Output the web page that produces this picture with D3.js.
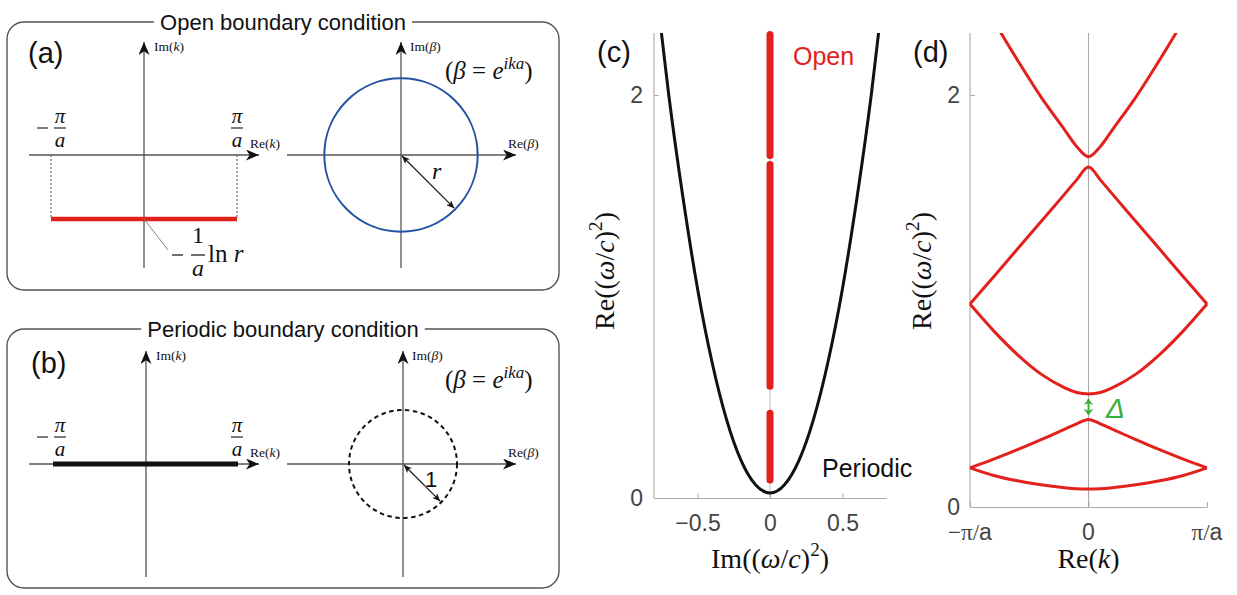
<!DOCTYPE html>
<html>
<head>
<meta charset="utf-8">
<script src="https://cdn.jsdelivr.net/npm/d3@7"></script>
<style>
  body { margin: 0; background: #fff; }
  svg { display: block; }
</style>
</head>
<body>
<svg id="viz" width="1237" height="595"></svg>
<script>
// ---- data ----
// (a)/(b): complex k plane and beta plane
const kRange = [-1, 1];            // Re(k) in units of pi/a
const openImK = -1;                // Im(k) = -(1/a) ln r  (schematic unit)
const openRadius = 1.42;           // |beta| = r for the open chain
const periodicRadius = 1;          // |beta| = 1 for the periodic chain

// (c): spectrum in the complex (omega/c)^2 plane
const periodicIm = [-0.8, -0.7, -0.6, -0.5, -0.4, -0.3, -0.2, -0.1, 0, 0.1, 0.2, 0.3, 0.4, 0.5, 0.6, 0.7, 0.8];
const periodicRe = [2.62, 2.01, 1.49, 1.04, 0.675, 0.39, 0.187, 0.066, 0.025, 0.066, 0.187, 0.39, 0.675, 1.04, 1.49, 2.01, 2.62];
const openSegments = [[0.08, 0.43], [0.545, 1.665], [1.69, 2.31]]; // Re ranges on Im = 0
const cTicksX = [-0.5, 0, 0.5];
const cTicksY = [0, 2];

// (d): bands vs Re(k) (k in units of pi/a)
const bandK = [-1, -0.8, -0.6, -0.4, -0.2, -0.1, 0, 0.1, 0.2, 0.4, 0.6, 0.8, 1];
const band1 = [0.19, 0.153, 0.127, 0.108, 0.094, 0.089, 0.087, 0.089, 0.094, 0.108, 0.127, 0.153, 0.19];
const band2 = [0.19, 0.232, 0.278, 0.327, 0.378, 0.404, 0.425, 0.404, 0.378, 0.327, 0.278, 0.232, 0.19];
const band3 = [0.985, 0.855, 0.74, 0.645, 0.578, 0.556, 0.549, 0.556, 0.578, 0.645, 0.74, 0.855, 0.985];
const band4 = [0.985, 1.118, 1.252, 1.386, 1.52, 1.588, 1.65, 1.588, 1.52, 1.386, 1.252, 1.118, 0.985];
const band5K = [-0.8, -0.6, -0.4, -0.2, -0.1, 0, 0.1, 0.2, 0.4, 0.6, 0.8];
const band5 = [2.36, 2.17, 1.99, 1.83, 1.75, 1.70, 1.75, 1.83, 1.99, 2.17, 2.36];
const gapEdges = [0.442, 0.529];
const dTicksX = [-1, 0, 1];
const dTickLabels = ["−π/a", "0", "π/a"];
const dTicksY = [0, 2];

const SANS = "'Liberation Sans', Arial, sans-serif";
const SERIF = "'Liberation Serif', 'Times New Roman', serif";
const RED = "#e3211c";
const GREEN = "#3cae3a";

const svg = d3.select("#viz");
const defs = svg.append("defs");

function marker(id, color, len, half) {
  defs.append("marker").attr("id", id)
    .attr("viewBox", `${-len} ${-half} ${len + 1} ${half * 2}`)
    .attr("refX", 0).attr("refY", 0)
    .attr("markerWidth", len + 1).attr("markerHeight", half * 2)
    .attr("markerUnits", "userSpaceOnUse")
    .attr("orient", "auto-start-reverse")
    .append("path")
    .attr("d", `M0,0 L${-len},${-half} L${-len * 0.72},0 L${-len},${half} Z`)
    .attr("fill", color);
}
marker("axisArrow", "#111", 13, 5.5);
marker("radArrow", "#111", 8, 3.5);
marker("gapArrow", GREEN, 6, 5);

// math text with italic / superscript parts
function mtext(sel, x, y, parts, size, opt = {}) {
  const t = sel.append("text").attr("x", x).attr("y", y)
    .attr("font-family", SERIF).attr("font-size", size)
    .attr("text-anchor", opt.anchor || "start")
    .attr("fill", opt.fill || "#111");
  if (opt.rotate) t.attr("transform", `rotate(-90,${x},${y})`);
  let shift = 0;
  parts.forEach(p => {
    const s = p.sup ? -0.42 * size : 0;
    const ts = t.append("tspan").text(p.t).attr("dy", s - shift);
    shift = s;
    if (p.i) ts.attr("font-style", "italic");
    if (p.sup) ts.attr("font-size", size * 0.68);
  });
  return t;
}

function fraction(sel, cx, barY, num, den, size, numItalic) {
  sel.append("line").attr("x1", cx - 6).attr("x2", cx + 6)
    .attr("y1", barY).attr("y2", barY).attr("stroke", "#111").attr("stroke-width", 1.1);
  mtext(sel, cx, barY - 5, [{ t: num, i: numItalic }], size, { anchor: "middle" });
  mtext(sel, cx, barY + 19, [{ t: den, i: true }], size, { anchor: "middle" });
}

// rounded frame with a gap for the title
function frame(x0, y0, x1, y1, title) {
  const g = svg.append("g");
  const cx = (x0 + x1) / 2;
  const t = g.append("text").attr("x", cx).attr("y", y0 + 7.5)
    .attr("text-anchor", "middle").attr("font-family", SANS)
    .attr("font-size", 22).attr("fill", "#111").text(title);
  const w = t.node().getComputedTextLength();
  const gl = cx - w / 2 - 6, gr = cx + w / 2 + 6, r = 17;
  const p = d3.path();
  p.moveTo(gr, y0);
  p.arcTo(x1, y0, x1, y0 + r, r);
  p.arcTo(x1, y1, x1 - r, y1, r);
  p.arcTo(x0, y1, x0, y1 - r, r);
  p.arcTo(x0, y0, x0 + r, y0, r);
  p.lineTo(gl, y0);
  g.append("path").attr("d", p.toString()).attr("fill", "none")
    .attr("stroke", "#555").attr("stroke-width", 1.4);
  return g;
}

function panelLabel(x, y, s) {
  svg.append("text").attr("x", x).attr("y", y).attr("font-family", SANS)
    .attr("font-size", 29).attr("fill", "#111").text(s);
}

function axisArrow(g, x1, y1, x2, y2) {
  g.append("line").attr("x1", x1).attr("y1", y1).attr("x2", x2).attr("y2", y2)
    .attr("stroke", "#555").attr("stroke-width", 1.3)
    .attr("marker-end", "url(#axisArrow)");
}

// k-plane and beta-plane sketch
function planes(g, oy, open) {
  const kx = d3.scaleLinear().domain(kRange).range([51, 237]);
  const ky = d3.scaleLinear().domain([0, -1]).range([oy, oy + 64]);
  const axX = kx(0) + (open ? 0 : 2);
  // k plane axes
  axisArrow(g, axX, oy + 113, axX, oy - 113);
  axisArrow(g, 29, oy, 259, oy);
  mtext(g, axX + 10, oy - 104, [{ t: "Im(" }, { t: "k", i: true }, { t: ")" }], 13.5);
  mtext(g, 250, oy - 7, [{ t: "Re(" }, { t: "k", i: true }, { t: ")" }], 13.5);
  // -pi/a, pi/a
  g.append("line").attr("x1", 37).attr("x2", 48).attr("y1", oy - 27).attr("y2", oy - 27)
    .attr("stroke", "#111").attr("stroke-width", 1.1);
  fraction(g, kx(-1) + 9, oy - 27, "π", "a", 21, true);
  fraction(g, kx(1), oy - 27, "π", "a", 21, true);

  if (open) {
    [kx(-1), kx(1)].forEach(x => g.append("line").attr("x1", x).attr("x2", x)
      .attr("y1", oy).attr("y2", ky(openImK))
      .attr("stroke", "#444").attr("stroke-width", 1).attr("stroke-dasharray", "2,2"));
    g.append("line").attr("x1", kx(-1)).attr("x2", kx(1))
      .attr("y1", ky(openImK)).attr("y2", ky(openImK))
      .attr("stroke", RED).attr("stroke-width", 4.5);
    g.append("line").attr("x1", axX).attr("y1", ky(openImK))
      .attr("x2", 168).attr("y2", ky(openImK) + 31)
      .attr("stroke", "#777").attr("stroke-width", 0.9);
    // -(1/a) ln r
    g.append("line").attr("x1", 172).attr("x2", 183).attr("y1", oy + 100).attr("y2", oy + 100)
      .attr("stroke", "#111").attr("stroke-width", 1.2);
    g.append("line").attr("x1", 191).attr("x2", 205).attr("y1", oy + 100).attr("y2", oy + 100)
      .attr("stroke", "#111").attr("stroke-width", 1.2);
    mtext(g, 198, oy + 88, [{ t: "1" }], 24, { anchor: "middle" });
    mtext(g, 198, oy + 121, [{ t: "a", i: true }], 24, { anchor: "middle" });
    mtext(g, 208, oy + 107, [{ t: "ln " }, { t: "r", i: true }], 25);
  } else {
    g.append("line").attr("x1", kx(-1) + 2).attr("x2", kx(1) + 1)
      .attr("y1", oy).attr("y2", oy)
      .attr("stroke", "#111").attr("stroke-width", 5);
  }

  // beta plane
  const bx = open ? 401 : 403;
  const br = d3.scaleLinear().domain([0, 1]).range([0, 54]);
  const R = open ? openRadius : periodicRadius;
  axisArrow(g, bx, oy + 113, bx, oy - 113);
  axisArrow(g, 287, oy, 516, oy);
  mtext(g, bx + 9, oy - 104, [{ t: "Im(" }, { t: "β", i: true }, { t: ")" }], 13.5);
  mtext(g, 508, oy - 7, [{ t: "Re(" }, { t: "β", i: true }, { t: ")" }], 13.5);
  g.append("circle").attr("cx", bx).attr("cy", oy).attr("r", br(R))
    .attr("fill", "none")
    .attr("stroke", open ? "#2452a3" : "#111").attr("stroke-width", 2)
    .attr("stroke-dasharray", open ? null : "4.5,3.5");
  const ex = bx + br(R) * Math.cos(Math.PI / 4) - 1, ey = oy + br(R) * Math.sin(Math.PI / 4) - 1;
  g.append("line").attr("x1", bx + 1).attr("y1", oy + 1).attr("x2", ex).attr("y2", ey)
    .attr("stroke", "#111").attr("stroke-width", 1.1)
    .attr("marker-start", "url(#radArrow)").attr("marker-end", "url(#radArrow)");
  if (open) mtext(g, 432, oy + 24, [{ t: "r", i: true }], 24);
  else g.append("text").attr("x", 425).attr("y", oy + 23).attr("font-family", SANS)
    .attr("font-size", 22).attr("fill", "#111").text("1");
  mtext(g, 445, oy - 76, [{ t: "(" }, { t: "β", i: true }, { t: " = " }, { t: "e", i: true },
    { t: "ika", i: true, sup: true }, { t: ")" }], 25);
}

// ---- (a) and (b) ----
const ga = frame(7, 22, 559, 290, "Open boundary condition");
panelLabel(28, 63, "(a)");
planes(ga, 155, true);

const gb = frame(7, 329, 559, 588, "Periodic boundary condition");
panelLabel(31, 373, "(b)");
planes(gb, 464, false);

function styleAxis(g) {
  g.select(".domain").attr("stroke", "#aaa").attr("stroke-width", 1.1);
  g.selectAll(".tick line").attr("stroke", "#aaa");
  g.selectAll(".tick text").attr("font-family", SANS).attr("font-size", 23).attr("fill", "#444");
}

// ---- (c) ----
const xc = d3.scaleLinear().domain([-0.8, 0.8]).range([654, 886]);
const yc = d3.scaleLinear().domain([0, 2]).range([498, 95]);
const gc = svg.append("g");
defs.append("clipPath").attr("id", "clipC").append("rect")
  .attr("x", 640).attr("y", 33).attr("width", 260).attr("height", 470);

gc.append("line").attr("x1", xc(0)).attr("x2", xc(0)).attr("y1", yc(0)).attr("y2", 33)
  .attr("stroke", "#bbb").attr("stroke-width", 1);

gc.append("g").attr("transform", `translate(0,${yc(0)})`)
  .call(d3.axisBottom(xc).tickValues(cTicksX).tickSizeInner(-5).tickSizeOuter(0).tickPadding(17)
    .tickFormat(d => d === 0 ? "0" : d3.format(".1f")(d).replace("-", "−")))
  .call(styleAxis);
gc.append("g").attr("transform", `translate(${xc.range()[0]},0)`)
  .call(d3.axisLeft(yc).tickValues(cTicksY).tickSizeInner(-5).tickSizeOuter(0).tickPadding(11)
    .tickFormat(d3.format("d")))
  .call(styleAxis)
  .call(g => g.select(".domain").attr("d", `M0,${yc(0)}V33`));

const parab = periodicIm.map((v, i) => [v, periodicRe[i]]);
gc.append("path").datum(parab).attr("clip-path", "url(#clipC)")
  .attr("d", d3.line().x(d => xc(d[0])).y(d => yc(d[1])).curve(d3.curveNatural))
  .attr("fill", "none").attr("stroke", "#111").attr("stroke-width", 3);

gc.selectAll(".seg").data(openSegments).join("line")
  .attr("x1", xc(0)).attr("x2", xc(0))
  .attr("y1", d => yc(d[0]) - 2).attr("y2", d => yc(d[1]) + 2)
  .attr("stroke", RED).attr("stroke-width", 7).attr("stroke-linecap", "round");

gc.append("text").attr("x", 793).attr("y", 65).attr("font-family", SANS)
  .attr("font-size", 25).attr("fill", RED).text("Open");
gc.append("text").attr("x", 822).attr("y", 477).attr("font-family", SANS)
  .attr("font-size", 25).attr("fill", "#111").text("Periodic");
panelLabel(597, 62, "(c)");

const reLabel = [{ t: "Re((" }, { t: "ω", i: true }, { t: "/" }, { t: "c", i: true }, { t: ")" },
  { t: "2", sup: true }, { t: ")" }];
mtext(svg, 614, 271, reLabel, 28, { anchor: "middle", rotate: true });
mtext(svg, xc(0), 568, [{ t: "Im((" }, { t: "ω", i: true }, { t: "/" }, { t: "c", i: true }, { t: ")" },
  { t: "2", sup: true }, { t: ")" }], 28, { anchor: "middle" });

// ---- (d) ----
const xd = d3.scaleLinear().domain([-1, 1]).range([970, 1207]);
const yd = d3.scaleLinear().domain([0, 2]).range([507, 95]);
const gd = svg.append("g");
defs.append("clipPath").attr("id", "clipD").append("rect")
  .attr("x", 955).attr("y", 33).attr("width", 270).attr("height", 480);

gd.append("line").attr("x1", xd(0)).attr("x2", xd(0)).attr("y1", yd(0)).attr("y2", 33)
  .attr("stroke", "#aaa").attr("stroke-width", 1.1);
gd.append("g").attr("transform", `translate(0,${yd(0)})`)
  .call(d3.axisBottom(xd).tickValues(dTicksX).tickSizeInner(-5).tickSizeOuter(0).tickFormat(() => ""))
  .call(styleAxis);
gd.append("g").attr("transform", `translate(${xd.range()[0]},0)`)
  .call(d3.axisLeft(yd).tickValues(dTicksY).tickSizeInner(-5).tickSizeOuter(0).tickPadding(10)
    .tickFormat(d3.format("d")))
  .call(styleAxis)
  .call(g => g.select(".domain").attr("d", `M0,${yd(0)}V33`));

dTicksX.forEach((v, i) => {
  const lab = dTickLabels[i];
  const t = gd.append("text").attr("x", xd(v)).attr("y", 540).attr("text-anchor", "middle")
    .attr("font-size", 23).attr("fill", "#444").attr("font-family", SANS);
  if (lab === "0") { t.text("0"); return; }
  t.append("tspan").attr("font-family", SERIF).text(lab.slice(0, lab.length - 1));
  t.append("tspan").text("a");
});

const bandLine = d3.line().x(d => xd(d[0])).y(d => yd(d[1])).curve(d3.curveCatmullRom);
[band1, band2, band3, band4].forEach(b => {
  gd.append("path").datum(bandK.map((k, i) => [k, b[i]]))
    .attr("clip-path", "url(#clipD)").attr("d", bandLine)
    .attr("fill", "none").attr("stroke", RED).attr("stroke-width", 3)
    .attr("stroke-linejoin", "round");
});
gd.append("path").datum(band5K.map((k, i) => [k, band5[i]]))
  .attr("clip-path", "url(#clipD)").attr("d", bandLine)
  .attr("fill", "none").attr("stroke", RED).attr("stroke-width", 3);

gd.append("line").attr("x1", xd(0)).attr("x2", xd(0))
  .attr("y1", yd(gapEdges[0]) - 1).attr("y2", yd(gapEdges[1]) + 1)
  .attr("stroke", GREEN).attr("stroke-width", 2)
  .attr("marker-start", "url(#gapArrow)").attr("marker-end", "url(#gapArrow)");
gd.append("text").attr("x", 1106).attr("y", 418).attr("font-family", SANS)
  .attr("font-style", "italic").attr("font-size", 28).attr("fill", GREEN).text("Δ");

panelLabel(913, 62, "(d)");
mtext(svg, 931, 271, reLabel, 28, { anchor: "middle", rotate: true });
mtext(svg, xd(0), 568, [{ t: "Re(" }, { t: "k", i: true }, { t: ")" }], 28, { anchor: "middle" });
</script>
</body>
</html>
